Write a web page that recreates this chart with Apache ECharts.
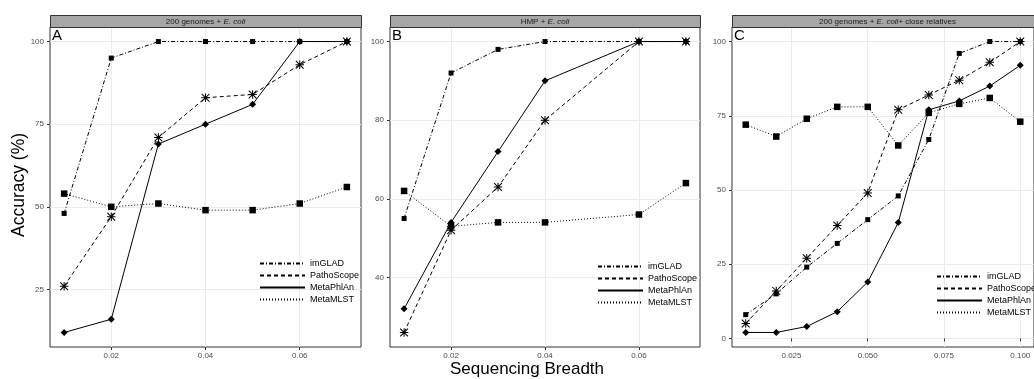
<!DOCTYPE html>
<html>
<head>
<meta charset="utf-8">
<script src="https://cdn.jsdelivr.net/npm/echarts@6/dist/echarts.min.js"></script>
<style>
  html, body { margin: 0; padding: 0; background: #fff; }
  #chart { width: 1034px; height: 379px; }
</style>
</head>
<body>
<div id="chart"></div>
<script>
// sequencing breadth values per panel
const breadthA = [0.01, 0.02, 0.03, 0.04, 0.05, 0.06, 0.07];
const breadthB = [0.01, 0.02, 0.03, 0.04, 0.06, 0.07];
const breadthC = [0.01, 0.02, 0.03, 0.04, 0.05, 0.06, 0.07, 0.08, 0.09, 0.10];

// panel A: 200 genomes + E. coli
const imGLAD_A    = [48, 95, 100, 100, 100, 100, 100];
const pathoA      = [26, 47, 71, 83, 84, 93, 100];
const metaphlanA  = [12, 16, 69, 75, 81, 100, 100];
const metamlstA   = [54, 50, 51, 49, 49, 51, 56];

// panel B: HMP + E. coli
const imGLAD_B    = [55, 92, 98, 100, 100, 100];
const pathoB      = [26, 52, 63, 80, 100, 100];
const metaphlanB  = [32, 54, 72, 90, 100, 100];
const metamlstB   = [62, 53, 54, 54, 56, 64];

// panel C: 200 genomes + E. coli + close relatives
const imGLAD_C    = [8, 15, 24, 32, 40, 48, 67, 96, 100, 100];
const pathoC      = [5, 16, 27, 38, 49, 77, 82, 87, 93, 100];
const metaphlanC  = [2, 2, 4, 9, 19, 39, 77, 80, 85, 92];
const metamlstC   = [72, 68, 74, 78, 78, 65, 76, 79, 81, 73];

// tick labels
const xTicksAB = [0.02, 0.04, 0.06];
const xTicksC  = [0.025, 0.05, 0.075, 0.1];
const yTicksA  = [25, 50, 75, 100];
const yTicksB  = [40, 60, 80, 100];
const yTicksC  = [0, 25, 50, 75, 100];

const methods = ['imGLAD', 'PathoScope', 'MetaPhlAn', 'MetaMLST'];

const FONT = '"Liberation Sans", Arial, sans-serif';
const GRID_COL = '#ebebeb';

const asterisk = 'path://M8.8,0L11.2,0L11.2,20L8.8,20Z M0,8.8L20,8.8L20,11.2L0,11.2Z ' +
  'M1.7,0L20,18.3L18.3,20L0,1.7Z M18.3,0L20,1.7L1.7,20L0,18.3Z';

const lineStyles = {
  imGLAD:     { type: [4, 2, 1, 2], symbol: 'rect', size: 5 },
  PathoScope: { type: [4, 3], symbol: asterisk, size: 8.5 },
  MetaPhlAn:  { type: 'solid', symbol: 'diamond', size: 7 },
  MetaMLST:   { type: [1, 2], symbol: 'rect', size: 6.5 }
};

function zip(xs, ys) {
  return xs.map((x, i) => [x, ys[i]]);
}

// half-step grid positions between labelled ticks
function withMinor(ticks, step) {
  const out = [];
  ticks.forEach(t => { out.push(t - step / 2); out.push(t); });
  return out;
}

const panels = [
  { x: breadthA, vals: [imGLAD_A, pathoA, metaphlanA, metamlstA],
    left: 50, width: 311, xmin: 0.007, xmax: 0.073, ymin: 7.6, ymax: 104.4,
    xt: xTicksAB, xgrid: breadthA, yt: yTicksA, ygrid: withMinor(yTicksA, 25),
    xdec: 2, legend: [259, 259] },
  { x: breadthB, vals: [imGLAD_B, pathoB, metaphlanB, metamlstB],
    left: 390, width: 310, xmin: 0.007, xmax: 0.073, ymin: 22.3, ymax: 103.7,
    xt: xTicksAB, xgrid: breadthA, yt: yTicksB, ygrid: withMinor(yTicksB, 20),
    xdec: 2, legend: [597, 262] },
  { x: breadthC, vals: [imGLAD_C, pathoC, metaphlanC, metamlstC],
    left: 732, width: 311, xmin: 0.0055, xmax: 0.1045, ymin: -2.9, ymax: 104.9,
    xt: xTicksC, xgrid: withMinor(xTicksC, 0.025), yt: yTicksC, ygrid: withMinor(yTicksC, 25).slice(1),
    xdec: 3, legend: [936, 272] }
];

const grid = [], xAxis = [], yAxis = [], series = [], legend = [];

panels.forEach((p, i) => {
  grid.push({
    left: p.left, top: 27, width: p.width, height: 320,
    show: true, borderColor: '#333', borderWidth: 1, backgroundColor: 'transparent'
  });
  xAxis.push({
    type: 'value', gridIndex: i, min: p.xmin, max: p.xmax,
    axisLine: { show: false },
    axisTick: { show: true, length: 3, lineStyle: { color: '#333' }, customValues: p.xt },
    axisLabel: { customValues: p.xt, margin: 5, fontSize: 8, color: '#4d4d4d', fontFamily: FONT,
      formatter: v => v.toFixed(p.xdec) },
    splitLine: { show: true, lineStyle: { color: GRID_COL, width: 1 }, customValues: p.xgrid }
  });
  yAxis.push({
    type: 'value', gridIndex: i, min: p.ymin, max: p.ymax,
    axisLine: { show: false },
    axisTick: { show: true, length: 3, lineStyle: { color: '#333' }, customValues: p.yt },
    axisLabel: { customValues: p.yt, margin: 6, fontSize: 8, color: '#4d4d4d', fontFamily: FONT },
    splitLine: { show: true, lineStyle: { color: GRID_COL, width: 1 }, customValues: p.ygrid }
  });
  methods.forEach((m, k) => {
    const st = lineStyles[m];
    series.push({
      name: m, type: 'line', xAxisIndex: i, yAxisIndex: i,
      data: zip(p.x, p.vals[k]),
      symbol: st.symbol, symbolSize: st.size,
      lineStyle: { color: '#000', width: 1, type: st.type },
      itemStyle: { color: '#000' },
      silent: true, animation: false
    });
  });
  legend.push({
    data: methods, orient: 'vertical', left: p.legend[0], top: p.legend[1],
    itemWidth: 45, itemHeight: 10, itemGap: 3, padding: 0,
    selectedMode: false,
    itemStyle: { opacity: 0 },
    textStyle: { fontSize: 9, color: '#000', fontFamily: FONT }
  });
});

const stripTitles = [
  '200 genomes + {i|E. coli}',
  'HMP + {i|E. coli}',
  '200 genomes + {i|E. coli}+ close relatives'
];
const letters = ['A', 'B', 'C'];

const graphic = [];
panels.forEach((p, i) => {
  graphic.push({
    type: 'rect', left: p.left, top: 15, z: 10,
    shape: { width: p.width, height: 12 },
    style: { fill: '#a6a6a6', stroke: '#333', lineWidth: 1 }
  });
  graphic.push({
    type: 'text', x: p.left + p.width / 2, y: 21.5, z: 11,
    style: {
      text: stripTitles[i], align: 'center', verticalAlign: 'middle',
      fontSize: 8, fill: '#1a1a1a', fontFamily: FONT,
      rich: { i: { fontStyle: 'italic', fontSize: 8, fontFamily: FONT } }
    }
  });
  graphic.push({
    type: 'text', x: p.left + 2, y: 28, z: 11,
    style: { text: letters[i], fontSize: 15, fill: '#000', fontFamily: FONT }
  });
});
graphic.push({
  type: 'text', x: 19, y: 185, rotation: Math.PI / 2,
  style: { text: 'Accuracy (%)', align: 'center', verticalAlign: 'middle',
    fontSize: 17.5, fill: '#000', fontFamily: FONT }
});
graphic.push({
  type: 'text', x: 527, y: 369,
  style: { text: 'Sequencing Breadth', align: 'center', verticalAlign: 'middle',
    fontSize: 17, fill: '#000', fontFamily: FONT }
});

const chart = echarts.init(document.getElementById('chart'));
chart.setOption({
  animation: false,
  backgroundColor: '#fff',
  grid: grid, xAxis: xAxis, yAxis: yAxis,
  series: series, legend: legend, graphic: graphic
});
</script>
</body>
</html>
